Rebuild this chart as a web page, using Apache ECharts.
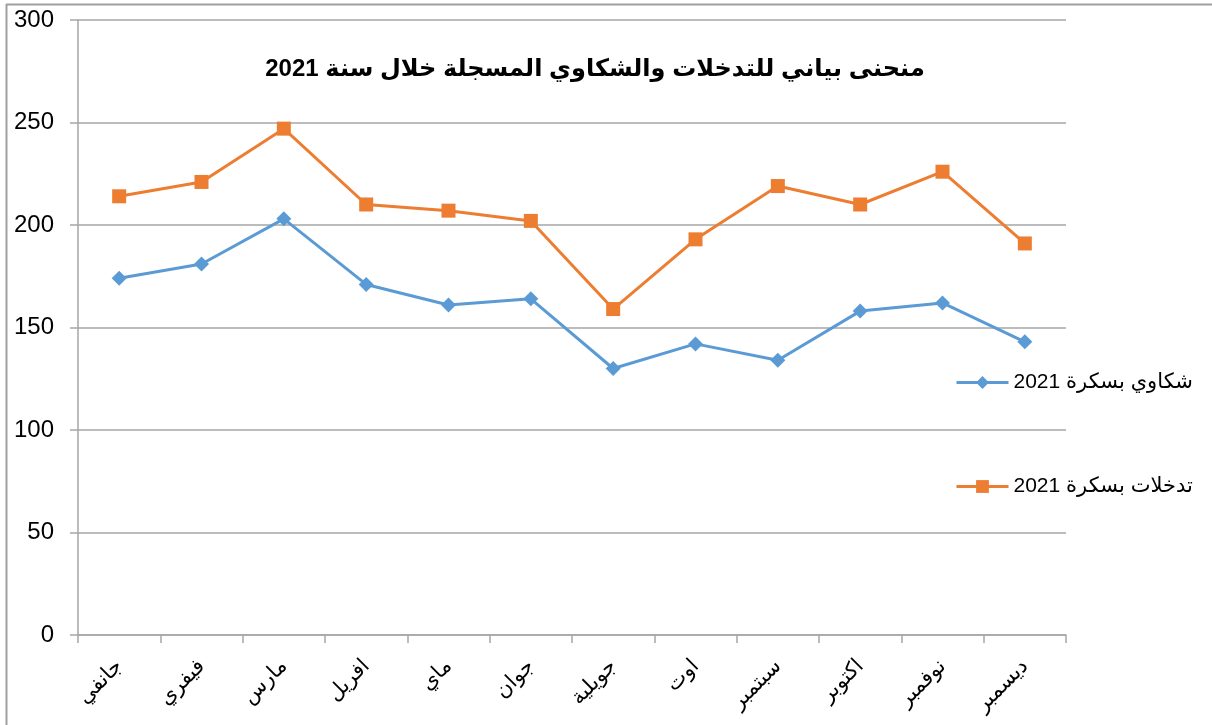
<!DOCTYPE html>
<html>
<head>
<meta charset="utf-8">
<script src="https://cdn.jsdelivr.net/npm/echarts@6/dist/echarts.min.js"></script>
<style>
html, body { margin: 0; padding: 0; background: #fff; }
#chart { width: 1212px; height: 725px; }
</style>
</head>
<body>
<div id="chart"></div>
<script>
// data
var months = ['جانفي', 'فيفري', 'مارس', 'افريل', 'ماي', 'جوان', 'جويلية', 'اوت', 'سبتمبر', 'اكتوبر', 'نوفمبر', 'ديسمبر'];
var complaints = [174, 181, 203, 171, 161, 164, 130, 142, 134, 158, 162, 143];
var interventions = [214, 221, 247, 210, 207, 202, 159, 193, 219, 210, 226, 191];
var yTicks = [0, 50, 100, 150, 200, 250, 300];

var complaintsName = 'شكاوي بسكرة 2021';
var interventionsName = 'تدخلات بسكرة 2021';
var titleText = 'منحنى بياني للتدخلات والشكاوي المسجلة خلال سنة 2021';

// force right-to-left display on the canvas
function rtl(s) { return '\u202B' + s + '\u202C'; }

var font = '"Liberation Sans", "DejaVu Sans", Arial, sans-serif';
var gridColor = '#a6a6a6';
var blue = '#5b9bd5';
var orange = '#ed7d31';

var myChart = echarts.init(document.getElementById('chart'));
var option = {
	backgroundColor: '#fff',
	animation: false,
	title: {
		text: rtl(titleText),
		left: 590,
		textAlign: 'center',
		top: 52,
		textStyle: { fontFamily: font, fontSize: 24, fontWeight: 'bold', color: '#000' }
	},
	legend: {
		orient: 'vertical',
		left: 950,
		top: 367,
		itemWidth: 52,
		itemHeight: 16,
		itemGap: 83,
		textStyle: { fontFamily: font, fontSize: 21, color: '#000' },
		formatter: function(name) { return rtl(name); },
		data: [
			{ name: complaintsName, lineStyle: { width: 3, color: blue } },
			{ name: interventionsName, lineStyle: { width: 3, color: orange } }
		]
	},
	grid: { left: 78, right: 146, top: 20, bottom: 90, containLabel: false },
	xAxis: {
		type: 'category',
		data: months,
		boundaryGap: true,
		axisLine: { lineStyle: { color: gridColor, width: 1.5 } },
		axisTick: { show: true, length: 8, lineStyle: { color: gridColor, width: 1.5 } },
		axisLabel: {
			rotate: 45,
			interval: 0,
			margin: 28,
			fontFamily: font,
			fontSize: 21,
			color: '#000'
		}
	},
	yAxis: {
		type: 'value',
		min: yTicks[0],
		max: yTicks[yTicks.length - 1],
		interval: 50,
		axisLine: { show: true, lineStyle: { color: gridColor, width: 1.5 } },
		axisTick: { show: true, length: 8, lineStyle: { color: gridColor, width: 1.5 } },
		axisLabel: { margin: 24, fontFamily: font, fontSize: 24, color: '#000' },
		splitLine: { lineStyle: { color: gridColor, width: 1.5 } }
	},
	graphic: [
		{ type: 'line', shape: { x1: 6, y1: 4.5, x2: 1212, y2: 4.5 }, style: { stroke: '#a0a0a0', lineWidth: 2 } },
		{ type: 'line', shape: { x1: 6.5, y1: 4, x2: 6.5, y2: 725 }, style: { stroke: '#a0a0a0', lineWidth: 2 } }
	],
	series: [{
		name: complaintsName,
		type: 'line',
		data: complaints,
		symbol: 'diamond',
		symbolSize: 15,
		lineStyle: { color: blue, width: 3 },
		itemStyle: { color: blue }
	}, {
		name: interventionsName,
		type: 'line',
		data: interventions,
		symbol: 'rect',
		symbolSize: 14,
		lineStyle: { color: orange, width: 3 },
		itemStyle: { color: orange }
	}]
};
myChart.setOption(option);
</script>
</body>
</html>
